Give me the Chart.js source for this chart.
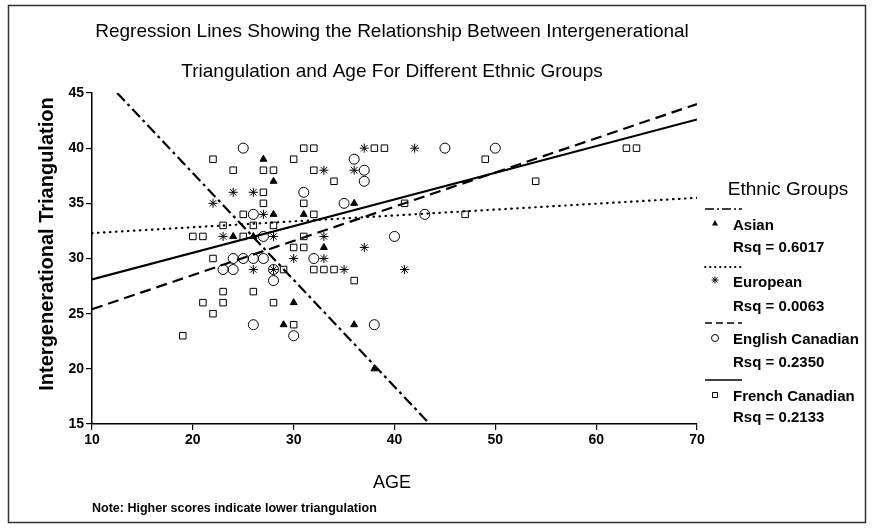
<!DOCTYPE html>
<html>
<head>
<meta charset="utf-8">
<script src="https://cdn.jsdelivr.net/npm/chart.js@4/dist/chart.umd.min.js"></script>
<style>
  html, body { margin: 0; padding: 0; background: #fff; }
  #chart { display: block; }
</style>
</head>
<body>
<canvas id="chart" width="874" height="530"></canvas>
<script>
// scatter points, [age, score]
const asianPoints = [[27, 39], [28, 37], [28, 34], [24, 32], [26, 32], [31, 34], [33, 31], [36, 35], [29, 24], [30, 26], [36, 24], [38, 20]];
const europeanPoints = [[37, 40], [42, 40], [33, 38], [36, 38], [24, 36], [26, 36], [22, 35], [27, 34], [23, 32], [28, 32], [33, 32], [37, 31], [30, 30], [33, 30], [26, 29], [28, 29], [35, 29], [41, 29]];
const englishPoints = [[25, 40], [45, 40], [50, 40], [36, 39], [37, 38], [37, 37], [31, 36], [35, 35], [26, 34], [43, 34], [27, 32], [40, 32], [24, 30], [25, 30], [26, 30], [27, 30], [32, 30], [23, 29], [24, 29], [28, 29], [28, 28], [26, 24], [38, 24], [30, 23]];
const frenchPoints = [[31, 40], [32, 40], [38, 40], [39, 40], [63, 40], [64, 40], [22, 39], [30, 39], [49, 39], [24, 38], [27, 38], [28, 38], [32, 38], [34, 37], [54, 37], [27, 36], [27, 35], [31, 35], [41, 35], [25, 34], [32, 34], [47, 34], [23, 33], [26, 33], [28, 33], [20, 32], [21, 32], [25, 32], [31, 32], [30, 31], [31, 31], [22, 30], [29, 29], [32, 29], [33, 29], [34, 29], [36, 28], [23, 27], [26, 27], [21, 26], [23, 26], [28, 26], [22, 25], [30, 24], [19, 23]];

// regression line end points
const asianLine = [[12.5, 45], [43.5, 15]];
const europeanLine = [[10, 32.3], [70, 35.5]];
const englishLine = [[10, 25.4], [70, 44.0]];
const frenchLine = [[10, 28.1], [70, 42.6]];

const groupNames = ['Asian', 'European', 'English Canadian', 'French Canadian'];
const rsqValues = ['0.6017', '0.0063', '0.2350', '0.2133'];

const xTicks = [10, 20, 30, 40, 50, 60, 70];
const yTicks = [15, 20, 25, 30, 35, 40, 45];

const toXY = pts => pts.map(p => ({ x: p[0], y: p[1] }));

const dashDot = [11, 4, 3, 4];
const dotted = [0.5, 5.5];
const dashed = [11, 6];

function lineSet(pts, dash, cap) {
    return {
        type: 'line',
        data: toXY(pts),
        borderColor: '#000',
        borderWidth: 2.2,
        borderDash: dash,
        borderCapStyle: cap || 'butt',
        pointRadius: 0,
        fill: false
    };
}

function drawMarker(ctx, kind, x, y) {
    ctx.save();
    ctx.strokeStyle = '#000';
    ctx.fillStyle = '#000';
    ctx.lineWidth = 1;
    ctx.setLineDash([]);
    ctx.beginPath();
    if (kind === 'triangle') {
        ctx.moveTo(x, y - 3);
        ctx.lineTo(x + 3, y + 2.5);
        ctx.lineTo(x - 3, y + 2.5);
        ctx.closePath();
        ctx.fill();
    } else if (kind === 'star') {
        for (let i = 0; i < 4; i++) {
            const a = i * Math.PI / 4;
            ctx.moveTo(x - 3.5 * Math.cos(a), y - 3.5 * Math.sin(a));
            ctx.lineTo(x + 3.5 * Math.cos(a), y + 3.5 * Math.sin(a));
        }
        ctx.stroke();
    } else if (kind === 'circle') {
        ctx.arc(x, y, 3.5, 0, Math.PI * 2);
        ctx.stroke();
    } else {
        ctx.rect(x - 2.5, y - 2.5, 5, 5);
        ctx.stroke();
    }
    ctx.restore();
}

const textPlugin = {
    id: 'textPlugin',
    afterDraw(chart) {
        const ctx = chart.ctx;
        ctx.save();
        // frame
        ctx.strokeStyle = '#333';
        ctx.lineWidth = 1.5;
        ctx.strokeRect(8.5, 5.5, 857, 517);

        ctx.fillStyle = '#000';
        ctx.textAlign = 'center';
        ctx.textBaseline = 'middle';
        ctx.font = '19px "Liberation Sans", Arial, sans-serif';
        ctx.fillText('Regression Lines Showing the Relationship Between Intergenerational', 392, 32);
        ctx.fillText('Triangulation and Age For Different Ethnic Groups', 392, 72);

        ctx.font = '18px "Liberation Sans", Arial, sans-serif';
        ctx.fillText('AGE', 392, 483);

        ctx.save();
        ctx.translate(47, 244);
        ctx.rotate(-Math.PI / 2);
        ctx.font = 'bold 20px "Liberation Sans", Arial, sans-serif';
        ctx.fillText('Intergenerational Triangulation', 0, 0);
        ctx.restore();

        ctx.textAlign = 'left';
        ctx.font = 'bold 12.5px "Liberation Sans", Arial, sans-serif';
        ctx.fillText('Note: Higher scores indicate lower triangulation', 92, 509);

        // legend
        ctx.textAlign = 'center';
        ctx.font = '19px "Liberation Sans", Arial, sans-serif';
        ctx.fillText('Ethnic Groups', 788, 190);

        const lineY = [209, 267, 323, 380];
        const nameY = [226, 283, 340, 397];
        const rsqY = [248, 307, 363, 418];
        const markY = [223, 280, 338, 395];
        const caps = ['butt', 'round', 'butt', 'butt'];
        const kinds = ['triangle', 'star', 'circle', 'rect'];
        groupNames.forEach((name, i) => {
            ctx.save();
            ctx.strokeStyle = '#000';
            ctx.lineWidth = i === 1 ? 1.8 : 1.5;
            ctx.setLineDash(i === 0 ? [9, 3, 2, 3] : i === 1 ? [0.5, 4.5] : i === 2 ? [7, 4] : []);
            ctx.lineCap = caps[i];
            ctx.beginPath();
            ctx.moveTo(705, lineY[i]);
            ctx.lineTo(742, lineY[i]);
            ctx.stroke();
            ctx.restore();

            drawMarker(ctx, kinds[i], 715, markY[i]);

            ctx.textAlign = 'left';
            ctx.font = 'bold 15px "Liberation Sans", Arial, sans-serif';
            ctx.fillText(name, 733, nameY[i]);
            ctx.fillText('Rsq = ' + rsqValues[i], 733, rsqY[i]);
        });
        ctx.restore();
    }
};

const tickFont = { family: '"Liberation Sans", Arial, sans-serif', size: 14, weight: 'bold' };

new Chart(document.getElementById('chart'), {
    type: 'scatter',
    data: {
        datasets: [
            lineSet(asianLine, dashDot),
            lineSet(europeanLine, dotted, 'round'),
            lineSet(englishLine, dashed),
            lineSet(frenchLine, []),
            {
                data: toXY(asianPoints),
                pointStyle: 'triangle',
                pointRadius: 4,
                backgroundColor: '#000',
                borderColor: '#000',
                borderWidth: 1
            },
            {
                data: toXY(europeanPoints),
                pointStyle: 'star',
                pointRadius: 4.5,
                backgroundColor: '#000',
                borderColor: '#000',
                borderWidth: 1
            },
            {
                data: toXY(englishPoints),
                pointStyle: 'circle',
                pointRadius: 5,
                backgroundColor: 'rgba(0,0,0,0)',
                borderColor: '#000',
                borderWidth: 1
            },
            {
                data: toXY(frenchPoints),
                pointStyle: 'rect',
                pointRadius: 4.6,
                backgroundColor: 'rgba(0,0,0,0)',
                borderColor: '#000',
                borderWidth: 1
            }
        ]
    },
    options: {
        responsive: false,
        animation: false,
        layout: { padding: { top: 93, right: 177, left: 0, bottom: 0 } },
        plugins: {
            legend: { display: false },
            tooltip: { enabled: false }
        },
        scales: {
            x: {
                type: 'linear',
                min: 10,
                max: 70,
                afterBuildTicks: s => { s.ticks = xTicks.map(v => ({ value: v })); },
                ticks: { color: '#000', font: tickFont, padding: 2, maxRotation: 0 },
                grid: { drawOnChartArea: false, tickLength: 6, color: '#000', lineWidth: 1.2 },
                border: { color: '#000', width: 1.5 },
                afterFit: s => { s.height = 106; }
            },
            y: {
                min: 15,
                max: 45,
                afterBuildTicks: s => { s.ticks = yTicks.map(v => ({ value: v })); },
                ticks: { color: '#000', font: tickFont, padding: 2 },
                grid: { drawOnChartArea: false, tickLength: 6, color: '#000', lineWidth: 1.2 },
                border: { color: '#000', width: 1.5 },
                afterFit: s => { s.width = 92; }
            }
        }
    },
    plugins: [textPlugin]
});
</script>
</body>
</html>
